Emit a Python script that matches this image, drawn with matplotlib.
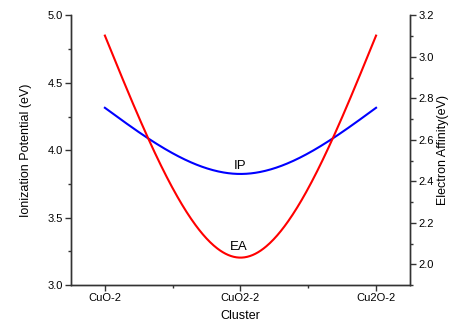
import numpy as np
import matplotlib
matplotlib.use("Agg")
import matplotlib.pyplot as plt
from matplotlib.ticker import MultipleLocator

clusters = ["CuO-2", "CuO2-2", "Cu2O-2"]
ip_values = [4.315, 3.824, 4.315]
ea_values = [3.103, 2.032, 3.103]

plt.rcParams['font.family'] = ['Liberation Sans', 'DejaVu Sans']


def natural_spline(x, y, n=300):
    x = np.asarray(x, float); y = np.asarray(y, float)
    k = len(x)
    h = np.diff(x)
    A = np.zeros((k, k)); r = np.zeros(k)
    A[0, 0] = 1; A[-1, -1] = 1
    for i in range(1, k - 1):
        A[i, i - 1] = h[i - 1]; A[i, i] = 2 * (h[i - 1] + h[i]); A[i, i + 1] = h[i]
        r[i] = 6 * ((y[i + 1] - y[i]) / h[i] - (y[i] - y[i - 1]) / h[i - 1])
    M = np.linalg.solve(A, r)
    xs = np.linspace(x[0], x[-1], n)
    ys = np.empty_like(xs)
    for j, xv in enumerate(xs):
        i = min(np.searchsorted(x, xv, side='right') - 1, k - 2)
        t1 = x[i + 1] - xv; t0 = xv - x[i]
        ys[j] = (M[i] * t1**3 + M[i + 1] * t0**3) / (6 * h[i]) \
            + (y[i] / h[i] - M[i] * h[i] / 6) * t1 + (y[i + 1] / h[i] - M[i + 1] * h[i] / 6) * t0
    return xs, ys


xpos = np.arange(1, len(clusters) + 1)

fig = plt.figure(figsize=(4.51, 3.26), dpi=100)
ax = fig.add_axes([0.1574, 0.1258, 0.909 - 0.1574, 0.9525 - 0.1258])
ax2 = ax.twinx()

xs, ys = natural_spline(xpos, ip_values)
ax.plot(xs, ys, color='#0000ff', lw=1.5)
xs, ys = natural_spline(xpos, ea_values)
ax2.plot(xs, ys, color='#ff0000', lw=1.5)

ax.set_xlim(0.75, 3.25)
ax.set_ylim(3.0, 5.0)
ax2.set_ylim(1.9, 3.2)

ax.set_xticks(xpos)
ax.set_xticklabels(clusters)
ax.xaxis.set_minor_locator(MultipleLocator(0.5))
ax.yaxis.set_major_locator(MultipleLocator(0.5))
ax.yaxis.set_minor_locator(MultipleLocator(0.25))
ax2.yaxis.set_major_locator(MultipleLocator(0.2))
ax2.yaxis.set_minor_locator(MultipleLocator(0.1))
ax.yaxis.set_major_formatter(matplotlib.ticker.FormatStrFormatter('%.1f'))
ax2.yaxis.set_major_formatter(matplotlib.ticker.FormatStrFormatter('%.1f'))

spine_color = '#333333'
for a in (ax, ax2):
    a.spines['top'].set_visible(False)
    for s in a.spines.values():
        s.set_color(spine_color)
        s.set_linewidth(1.0)
    a.tick_params(which='major', length=4, width=1.0, color=spine_color, labelsize=8, direction='out', pad=2)
    a.tick_params(which='minor', length=2.5, width=1.0, color=spine_color, direction='out')

ax.tick_params(axis='y', which='both', right=False)
ax2.tick_params(axis='x', which='both', bottom=False, top=False)

ax.set_xlabel("Cluster", fontsize=9, labelpad=5)
ax.set_ylabel("Ionization Potential (eV)", fontsize=9, labelpad=11)
ax2.set_ylabel("Electron Affinity(eV)", fontsize=9, labelpad=2)

ax.text(2.0, 3.885, "IP", fontsize=9.5, ha='center', va='center')
ax.text(1.985, 3.285, "EA", fontsize=9.5, ha='center', va='center')

fig.savefig("out.png", dpi=100)
